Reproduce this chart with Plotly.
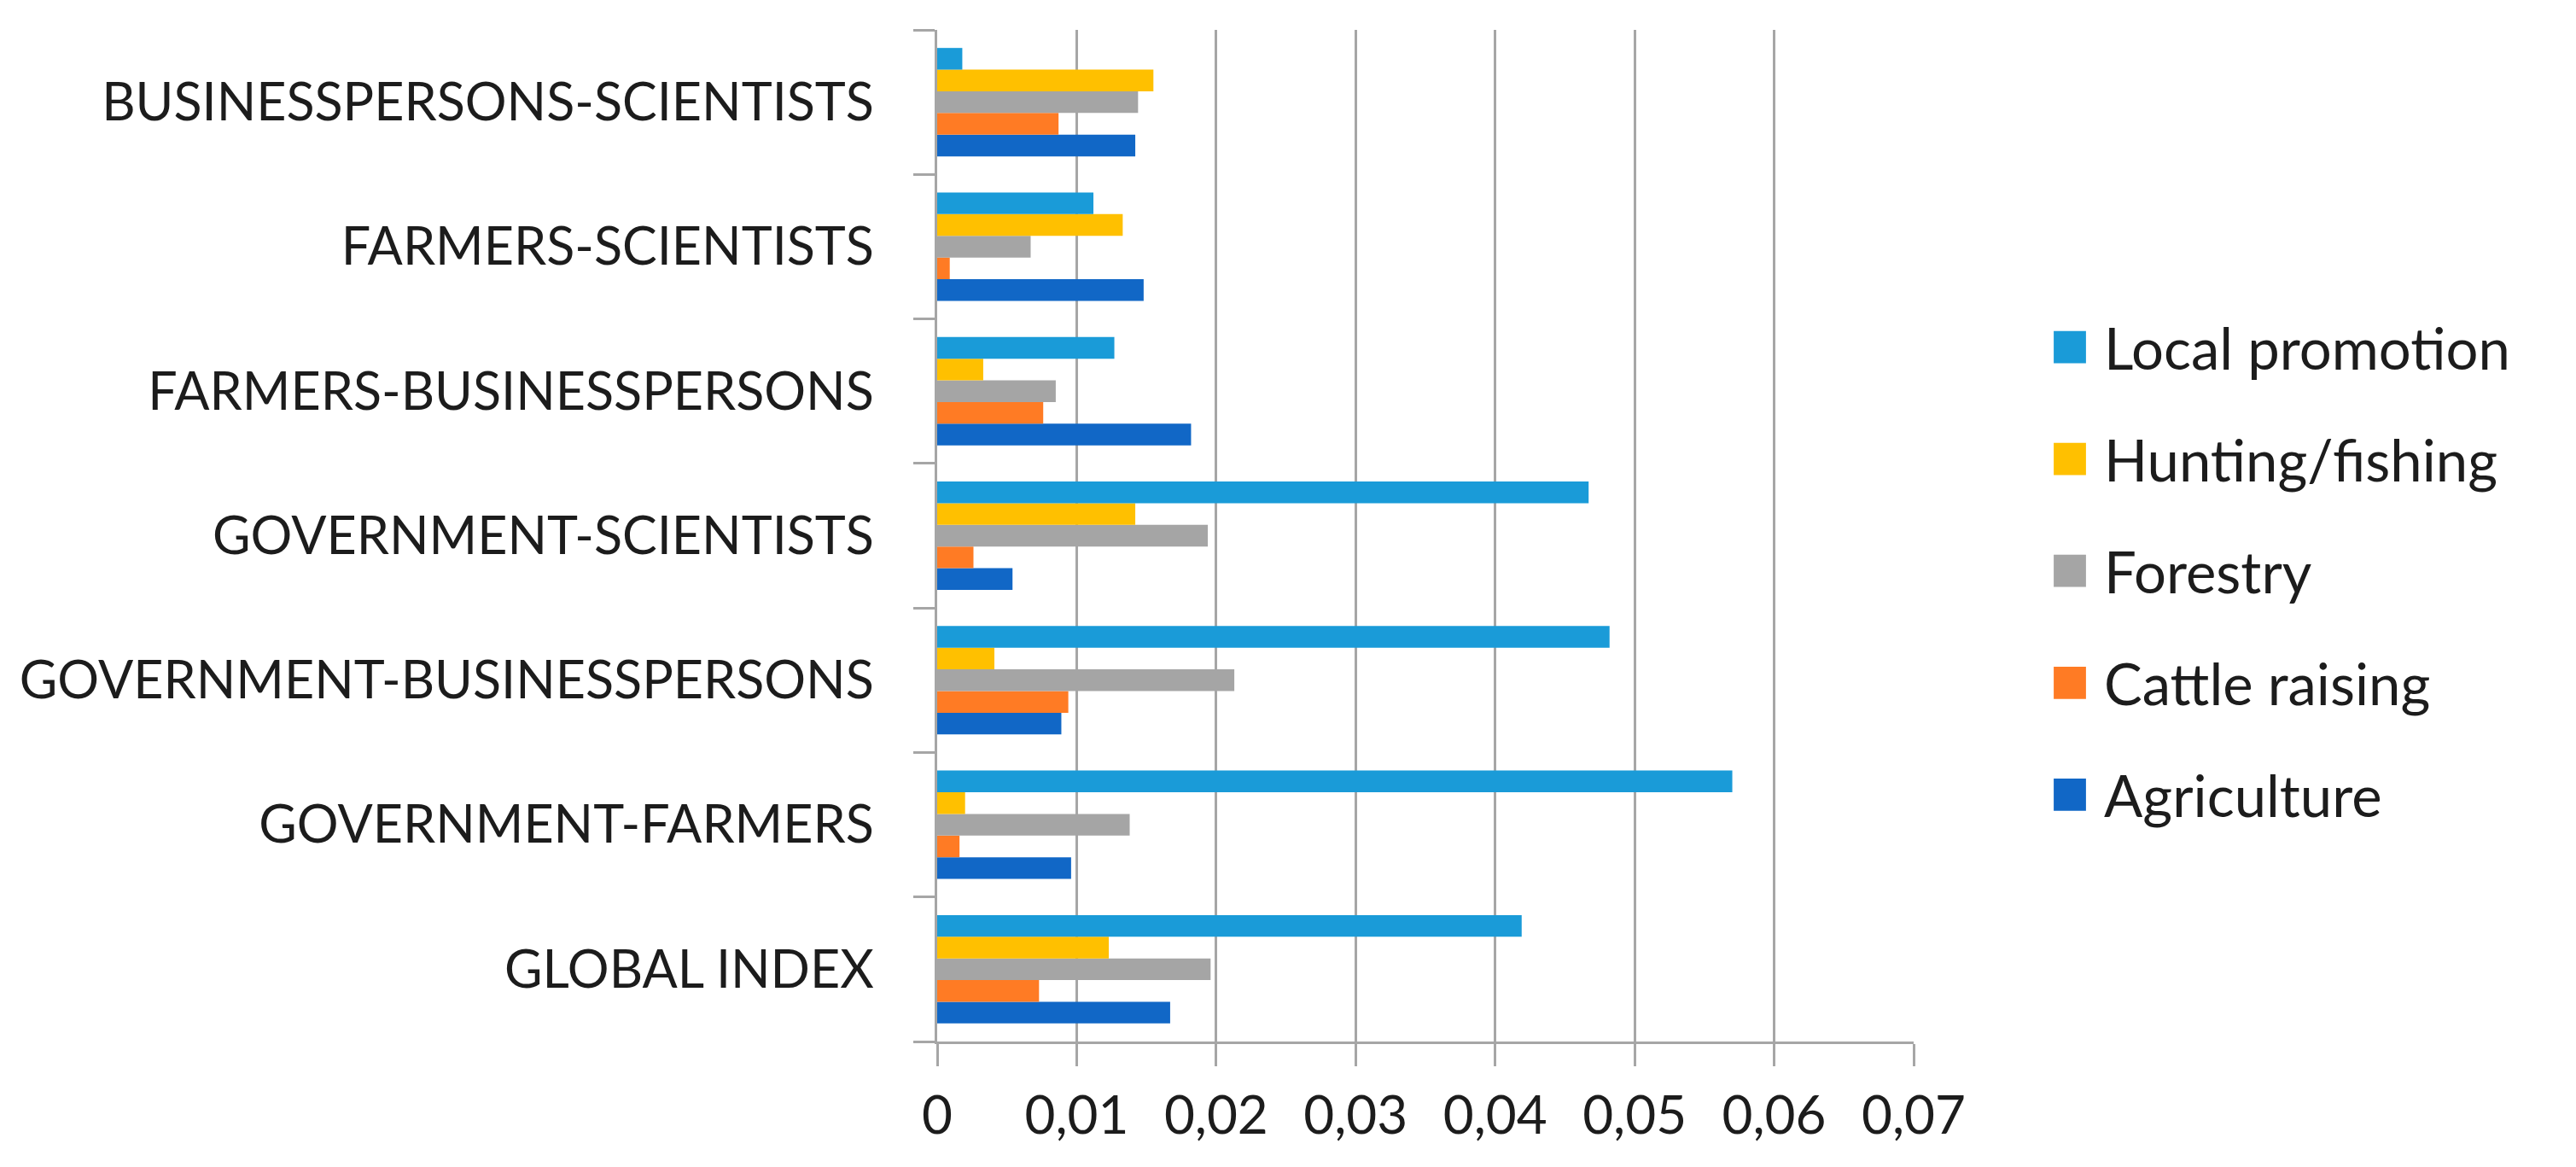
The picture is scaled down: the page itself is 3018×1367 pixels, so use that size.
import plotly.graph_objects as go

# ---- data ----
categories = [
    "GLOBAL INDEX",
    "GOVERNMENT-FARMERS",
    "GOVERNMENT-BUSINESSPERSONS",
    "GOVERNMENT-SCIENTISTS",
    "FARMERS-BUSINESSPERSONS",
    "FARMERS-SCIENTISTS",
    "BUSINESSPERSONS-SCIENTISTS",
]

agriculture = [0.0167, 0.0096, 0.0089, 0.0054, 0.0182, 0.0148, 0.0142]
cattle_raising = [0.0073, 0.0016, 0.0094, 0.0026, 0.0076, 0.0009, 0.0087]
forestry = [0.0196, 0.0138, 0.0213, 0.0194, 0.0085, 0.0067, 0.0144]
hunting_fishing = [0.0123, 0.0020, 0.0041, 0.0142, 0.0033, 0.0133, 0.0155]
local_promotion = [0.0419, 0.0570, 0.0482, 0.0467, 0.0127, 0.0112, 0.0018]

series_names = ["Agriculture", "Cattle raising", "Forestry", "Hunting/fishing", "Local promotion"]
series_values = [agriculture, cattle_raising, forestry, hunting_fishing, local_promotion]
series_colors = ["#1167C6", "#FF7B24", "#A5A5A5", "#FFC000", "#1A9BD8"]
legend_ranks = [5, 4, 3, 2, 1]

x_tick_values = [0, 0.01, 0.02, 0.03, 0.04, 0.05, 0.06, 0.07]
x_tick_labels = ["0", "0,01", "0,02", "0,03", "0,04", "0,05", "0,06", "0,07"]

FONT = "Lato, 'Open Sans', sans-serif"
TEXT_COLOR = "#1c1c1c"
GRID = "#A6A6A6"

fig = go.Figure()
for name, vals, col, rank in zip(series_names, series_values, series_colors, legend_ranks):
    fig.add_trace(go.Bar(
        y=categories, x=vals, name=name, orientation="h",
        marker=dict(color=col, line=dict(width=0)),
        legendgroup=name, legendrank=rank,
    ))

fig.update_layout(
    width=3018, height=1367,
    margin=dict(l=1090, r=784, t=27, b=155, autoexpand=False),
    paper_bgcolor="white", plot_bgcolor="white",
    barmode="group", bargap=0.25, bargroupgap=0,
    font=dict(family=FONT, size=62, color=TEXT_COLOR),
    separators=", ",
    showlegend=True,
    legend=dict(
        x=1.125, xanchor="left", y=0.465, yanchor="middle",
        traceorder="grouped", tracegroupgap=41,
        font=dict(family=FONT, size=67, color=TEXT_COLOR),
        itemwidth=70, bgcolor="rgba(0,0,0,0)", borderwidth=0,
    ),
)

fig.update_xaxes(
    range=[0, 0.07], tickvals=x_tick_values, ticktext=x_tick_labels,
    showgrid=True, gridcolor=GRID, gridwidth=2.5, zeroline=False,
    showline=True, linecolor=GRID, linewidth=3,
    ticks="outside", ticklen=26, tickwidth=2.5, tickcolor=GRID,
    ticklabelstandoff=5,
    tickfont=dict(family=FONT, size=62, color=TEXT_COLOR),
)
fig.update_yaxes(
    type="category", categoryorder="array", categoryarray=categories,
    range=[-0.5, len(categories) - 0.5],
    showgrid=False, zeroline=False,
    showline=True, linecolor=GRID, linewidth=3,
    ticks="outside", tickson="boundaries", ticklen=25, tickwidth=3, tickcolor=GRID,
    ticklabelstandoff=59,
    tickfont=dict(family=FONT, size=61, color=TEXT_COLOR),
)

post = """
var gd = document.getElementById('{plot_id}');
gd.querySelectorAll('.legend .traces .legendpoints path').forEach(function(p){
  var t = p.getAttribute('transform') || '';
  p.setAttribute('transform', t + ' scale(3.15)');
});
"""
fig.write_html("out.html", post_script=post)
